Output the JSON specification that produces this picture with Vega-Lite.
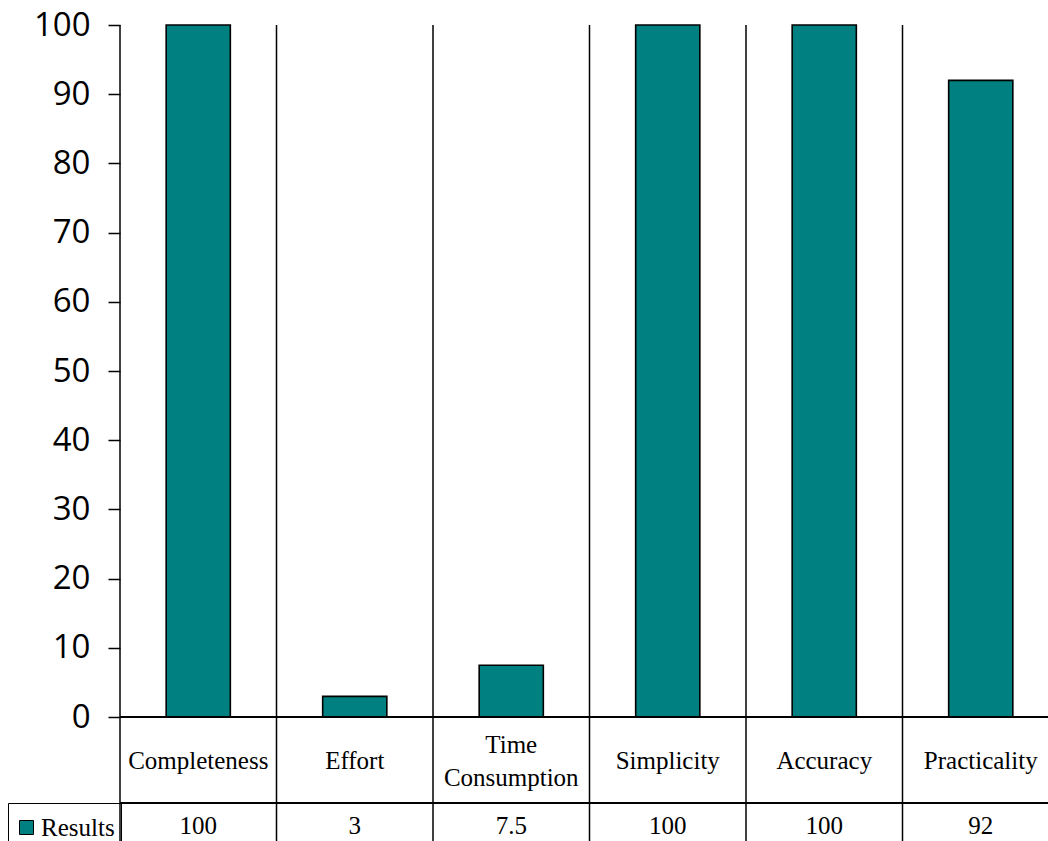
{
  "$schema": "https://vega.github.io/schema/vega-lite/v6.json",
  "autosize": "none",
  "width": 928,
  "height": 816,
  "padding": {"left": 120, "top": 25, "right": 0, "bottom": 0},
  "background": "white",
  "config": {
    "view": {"stroke": null}
  },
  "data": {
    "values": [
      {"category": "Completeness", "label": "Completeness", "value": 100, "shown": "100", "series": "Results"},
      {"category": "Effort", "label": "Effort", "value": 3, "shown": "3", "series": "Results"},
      {"category": "Time Consumption", "label": "Time\nConsumption", "value": 7.5, "shown": "7.5", "series": "Results"},
      {"category": "Simplicity", "label": "Simplicity", "value": 100, "shown": "100", "series": "Results"},
      {"category": "Accuracy", "label": "Accuracy", "value": 100, "shown": "100", "series": "Results"},
      {"category": "Practicality", "label": "Practicality", "value": 92, "shown": "92", "series": "Results"}
    ]
  },
  "layer": [
    {
      "mark": {"type": "rule", "color": "black", "strokeWidth": 1.5},
      "encoding": {
        "x": {"field": "category", "type": "nominal", "sort": null, "bandPosition": 0,
              "scale": {"range": [0, 939], "paddingInner": 0, "paddingOuter": 0}, "axis": null}
      }
    },
    {
      "mark": {"type": "bar", "stroke": "black", "strokeWidth": 1.6, "width": {"band": 0.41}},
      "encoding": {
        "x": {"field": "category", "type": "nominal", "sort": null, "axis": null},
        "y": {"field": "value", "type": "quantitative",
              "scale": {"domain": [-17.9, 100], "nice": false, "zero": false},
              "axis": {"values": [0, 10, 20, 30, 40, 50, 60, 70, 80, 90, 100], "title": null,
                       "domain": false, "grid": false, "tickSize": 12, "tickColor": "black", "tickWidth": 1.5,
                       "labelFont": "Open Sans", "labelFontSize": 33, "labelColor": "black", "labelPadding": 18}},
        "color": {"field": "series", "type": "nominal", "scale": {"range": ["#008080"]},
                  "legend": {"orient": "none", "legendX": -112, "legendY": 778, "title": " ",
                             "titleFontSize": 6, "titlePadding": 0,
                             "strokeColor": "black", "padding": 6, "symbolType": "square", "symbolSize": 196,
                             "symbolStrokeColor": "black", "symbolStrokeWidth": 1,
                             "labelOffset": 2, "labelLimit": 200,
                             "labelFont": "Liberation Serif", "labelFontSize": 25, "labelColor": "black"}}
      }
    },
    {
      "mark": {"type": "rule", "color": "black", "strokeWidth": 1.5},
      "encoding": {"y": {"datum": 0, "title": null}}
    },
    {
      "mark": {"type": "rule", "color": "black", "strokeWidth": 1.5},
      "encoding": {"y": {"datum": -12.43, "title": null}}
    },
    {
      "transform": [{"filter": "datum.category !== 'Time Consumption'"}],
      "mark": {"type": "text", "font": "Liberation Serif", "fontSize": 25,
               "baseline": "middle", "align": "center", "color": "black"},
      "encoding": {
        "x": {"field": "category", "type": "nominal", "sort": null, "axis": null},
        "y": {"datum": -6.3, "title": null},
        "text": {"field": "label", "type": "nominal"}
      }
    },
    {
      "transform": [{"filter": "datum.category === 'Time Consumption'"}],
      "mark": {"type": "text", "font": "Liberation Serif", "fontSize": 25, "lineBreak": "\n", "lineHeight": 33,
               "baseline": "middle", "align": "center", "color": "black"},
      "encoding": {
        "x": {"field": "category", "type": "nominal", "sort": null, "axis": null},
        "y": {"datum": -4.1, "title": null},
        "text": {"field": "label", "type": "nominal"}
      }
    },
    {
      "mark": {"type": "text", "font": "Liberation Serif", "fontSize": 25, "baseline": "middle", "align": "center", "color": "black"},
      "encoding": {
        "x": {"field": "category", "type": "nominal", "sort": null, "axis": null},
        "y": {"datum": -15.7, "title": null},
        "text": {"field": "shown", "type": "nominal"}
      }
    }
  ]
}
